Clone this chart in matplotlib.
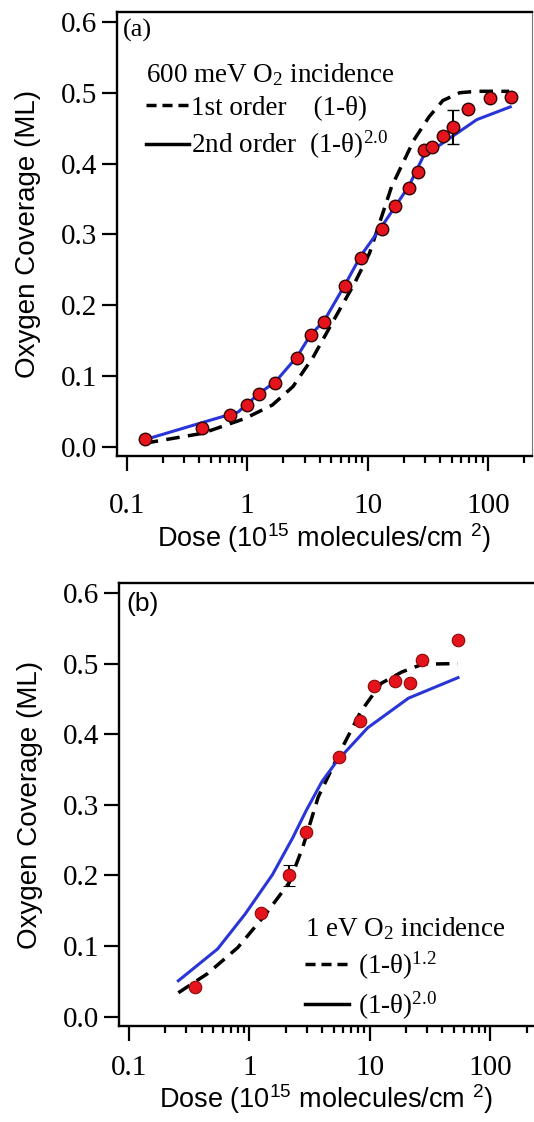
import numpy as np
import matplotlib
matplotlib.use("Agg")
import matplotlib.pyplot as plt
from matplotlib.lines import Line2D
from matplotlib.ticker import FixedLocator, FixedFormatter, NullFormatter

plt.rcParams['mathtext.default'] = 'regular'

# ---- panel (a): 600 meV data and fits ----
dose_a = [0.141, 0.425, 0.726, 1.0, 1.26, 1.71, 2.59, 3.36, 4.36, 6.49, 8.81,
          13.1, 16.9, 22.0, 26.4, 29.6, 34.1, 42.3, 51.4, 68.0, 104, 155]
cov_a = [0.011, 0.026, 0.045, 0.059, 0.075, 0.090, 0.126, 0.158, 0.176, 0.227, 0.266,
         0.308, 0.340, 0.366, 0.388, 0.419, 0.424, 0.439, 0.451, 0.477, 0.492, 0.494]
err_a = [0] * 18 + [0.024] + [0] * 3

fit1_x_a = [0.141, 0.425, 0.96, 1.62, 2.40, 3.54, 5.24, 7.74, 10.35, 15.8,
            24.2, 32.4, 42.2, 58.3, 80, 150]
fit1_y_a = [0.005, 0.019, 0.040, 0.059, 0.085, 0.127, 0.179, 0.230, 0.273, 0.367,
            0.433, 0.466, 0.489, 0.500, 0.502, 0.502]
fit2_x_a = [0.141, 0.42, 0.84, 1.25, 1.72, 2.59, 3.36, 4.36, 6.5, 8.8,
            13.1, 22, 29, 51.3, 80.7, 153]
fit2_y_a = [0.010, 0.034, 0.049, 0.075, 0.092, 0.127, 0.158, 0.178, 0.229, 0.270,
            0.311, 0.368, 0.410, 0.439, 0.462, 0.480]

# ---- panel (b): 1 eV data and fits ----
dose_b = [0.351, 1.25, 2.14, 2.96, 5.5, 8.3, 10.9, 16.1, 21.6, 26.9, 53.8]
cov_b = [0.042, 0.147, 0.200, 0.262, 0.368, 0.418, 0.468, 0.475, 0.473, 0.505, 0.534]
err_b = [0, 0, 0.015, 0, 0, 0, 0, 0, 0, 0, 0]

fit1_x_b = [0.257, 0.448, 0.80, 1.36, 2.14, 2.77, 3.72, 5.69, 8.39, 12.4, 18.4, 27.2, 53.8]
fit1_y_b = [0.034, 0.061, 0.098, 0.145, 0.190, 0.240, 0.311, 0.376, 0.432, 0.472, 0.488, 0.499, 0.500]
fit2_x_b = [0.257, 0.544, 0.917, 1.55, 2.28, 2.96, 4.0, 5.33, 9.57, 20.9, 53.8]
fit2_y_b = [0.051, 0.096, 0.145, 0.201, 0.253, 0.292, 0.333, 0.362, 0.409, 0.451, 0.480]

yticks = [0.0, 0.1, 0.2, 0.3, 0.4, 0.5, 0.6]
xticks = [0.1, 1, 10, 100]
xtick_labels = ["0.1", "1", "10", "100"]

serif = "Liberation Serif"
sans = "Liberation Sans"
red = "#e5141c"
blue = "#2a35d8"


def style_axes(ax, xlim, xpad, xlab_y):
    ax.set_xscale("log")
    ax.set_xlim(xlim)
    ax.set_ylim(-0.013, 0.614)
    ax.xaxis.set_major_locator(FixedLocator(xticks))
    ax.xaxis.set_major_formatter(FixedFormatter(xtick_labels))
    minors = [k * 10.0 ** d for d in range(-1, 3) for k in range(2, 10)]
    minors = [m for m in minors if m < xlim[1]]
    ax.xaxis.set_minor_locator(FixedLocator(minors))
    ax.xaxis.set_minor_formatter(NullFormatter())
    ax.set_yticks(yticks)
    ax.set_yticklabels(["%.1f" % v for v in yticks])
    ax.tick_params(axis="both", which="major", direction="out", width=1.6,
                   labelsize=21, labelfontfamily=serif)
    ax.tick_params(axis="y", length=11, pad=3)
    ax.tick_params(axis="x", which="major", length=11, pad=xpad)
    ax.tick_params(axis="x", which="minor", length=5, width=1.6)
    ax.tick_params(axis="y", which="minor", length=0)
    for s in ["left", "bottom", "top"]:
        ax.spines[s].set_linewidth(1.7)
    ax.set_ylabel("Oxygen Coverage (ML)", fontsize=20, family=sans)
    ax.yaxis.set_label_coords(-0.183, 0.5)
    ax.set_xlabel("Dose (10$^{15}$ molecules/cm $^{2}$)", fontsize=19.5, family=sans)
    ax.xaxis.set_label_coords(0.5, xlab_y)


fig = plt.figure(figsize=(5.34, 11.22), dpi=100)

# ============ (a) ============
ax1 = fig.add_axes([0.2191, 0.5936, 0.7772, 0.3957])
ax1.plot(fit1_x_a, fit1_y_a, color="k", lw=2.5, ls=(0, (3.9, 2.4)), zorder=2)
ax1.plot(fit2_x_a, fit2_y_a, color=blue, lw=2.2, zorder=3)
ax1.errorbar(dose_a, cov_a, yerr=err_a, fmt="o", ms=9, mfc=red, mec="#300000",
             mew=1.0, ecolor="k", elinewidth=1.5, capsize=4.5, capthick=1.5, zorder=4)
style_axes(ax1, (0.083, 232), 16, -0.148)
ax1.spines["right"].set_linewidth(0.8)
ax1.spines["right"].set_color("#777777")
ax1.text(0.0135, 0.985, "(a)", transform=ax1.transAxes, ha="left", va="top",
         fontsize=19, family=serif)
h1 = [Line2D([], [], color="k", lw=2.5, ls=(0, (2.9, 1.7))),
      Line2D([], [], color="k", lw=2.5)]
leg1 = ax1.legend(h1, ["1st order    (1-θ)", "2nd order  (1-θ)$^{2.0}$"],
                  title="600 meV O$_2$ incidence", loc="upper left",
                  bbox_to_anchor=(0.07, 0.89), frameon=False, borderpad=0,
                  borderaxespad=0, handlelength=1.6, handletextpad=0.05,
                  labelspacing=0.3, alignment="left",
                  prop={"family": serif, "size": 19.5},
                  title_fontproperties={"family": serif, "size": 19.5})

# ============ (b) ============
ax2 = fig.add_axes([0.2228, 0.0856, 0.7772, 0.3948])
ax2.plot(fit1_x_b, fit1_y_b, color="k", lw=2.5, ls=(0, (3.9, 2.4)), zorder=2)
ax2.plot(fit2_x_b, fit2_y_b, color=blue, lw=2.2, zorder=3)
ax2.errorbar(dose_b, cov_b, yerr=err_b, fmt="o", ms=9, mfc=red, mec="#8a0a0a",
             mew=0.8, ecolor="k", elinewidth=1.5, capsize=4.5, capthick=1.5, zorder=4)
style_axes(ax2, (0.0826, 230), 10, -0.128)
ax2.spines["right"].set_visible(False)
ax2.text(0.017, 0.979, "(b)", transform=ax2.transAxes, ha="left", va="top",
         fontsize=19, family=sans)
h2 = [Line2D([], [], color="k", lw=2.5, ls=(0, (2.9, 1.7))),
      Line2D([], [], color="k", lw=2.5)]
leg2 = ax2.legend(h2, ["(1-θ)$^{1.2}$", "(1-θ)$^{2.0}$"],
                  title="1 eV O$_2$ incidence", loc="upper left",
                  bbox_to_anchor=(0.449, 0.25), frameon=False, borderpad=0,
                  borderaxespad=0, handlelength=1.6, handletextpad=0.35,
                  labelspacing=0.28, alignment="left",
                  prop={"family": serif, "size": 19.5},
                  title_fontproperties={"family": serif, "size": 19.5})

fig.savefig("out.png", dpi=100)
